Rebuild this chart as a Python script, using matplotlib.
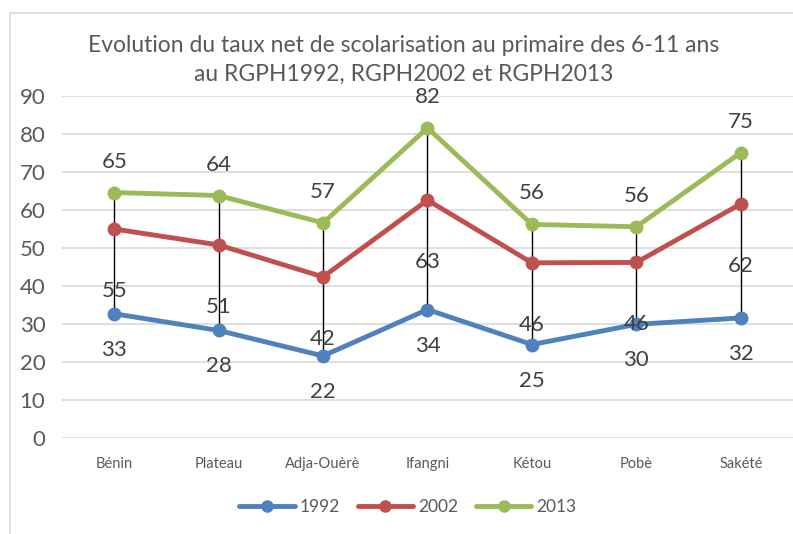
import matplotlib
matplotlib.use("Agg")
import matplotlib.pyplot as plt
from matplotlib.patches import Rectangle
from matplotlib.lines import Line2D

categories = ["Bénin", "Plateau", "Adja-Ouèrè", "Ifangni", "Kétou", "Pobè", "Sakété"]
v1992 = [32.7, 28.3, 21.6, 33.8, 24.6, 29.9, 31.6]
v2002 = [55.0, 50.8, 42.4, 62.6, 46.1, 46.2, 61.6]
v2013 = [64.6, 63.8, 56.6, 81.6, 56.2, 55.6, 75.1]
series_names = ["1992", "2002", "2013"]
colors = ["#4F81BD", "#C0504D", "#9BBB59"]
yticks = [0, 10, 20, 30, 40, 50, 60, 70, 80, 90]
title = "Evolution du taux net de scolarisation au primaire des 6-11 ans\nau RGPH1992, RGPH2002 et RGPH2013"

plt.rcParams['font.family'] = ['Lato', 'DejaVu Sans']
txt = "#595959"

W, H = 793, 534
fig = plt.figure(figsize=(W / 100, H / 100), dpi=100)
fig.patch.set_facecolor("white")
# chart frame
fig.patches.append(Rectangle((10 / W, -0.1), 1.0, (534 - 13) / H + 0.1, transform=fig.transFigure,
                             fill=False, edgecolor="#D9D9D9", linewidth=1.2))

left, right = 62 / W, 793 / W
bottom, top = 1 - 438 / H, 1 - 96 / H
ax = fig.add_axes([left, bottom, right - left, top - bottom])
x = list(range(len(categories)))
ax.set_xlim(-0.5, len(categories) - 0.5)
ax.set_ylim(0, 90)
ax.set_yticks(yticks)
ax.set_yticklabels([str(t) for t in yticks], fontsize=16, color=txt)
ax.set_xticks(x)
ax.set_xticklabels(categories, fontsize=10.5, color=txt)
ax.tick_params(length=0, pad=12)
ax.tick_params(axis='x', pad=14)
ax.grid(axis='y', color="#D9D9D9", linewidth=1.2)
ax.set_axisbelow(True)
for s in ax.spines.values():
    s.set_visible(False)

# high-low lines
for i in x:
    lo = min(v1992[i], v2002[i], v2013[i])
    hi = max(v1992[i], v2002[i], v2013[i])
    ax.plot([i, i], [lo, hi], color="black", linewidth=1, zorder=2)

all_series = [v1992, v2002, v2013]
offsets = [-36, -62, 31]
for vals, name, c, off in zip(all_series, series_names, colors, offsets):
    ax.plot(x, vals, color=c, linewidth=3.5, marker='o', markersize=9, label=name, zorder=3,
            solid_capstyle='round')
    for i, v in enumerate(vals):
        ax.annotate(f"{v:.0f}", (i, v), xytext=(0, off), textcoords="offset pixels",
                    ha="center", va="center", fontsize=16, color="#404040")

fig.text(404 / W, 1 - 45 / H, title.split("\n")[0], ha="center", va="center", fontsize=16.5, color=txt)
fig.text(404 / W, 1 - 74 / H, title.split("\n")[1], ha="center", va="center", fontsize=16.5, color=txt)

handles = [Line2D([0], [0], color=c, linewidth=3.5, marker='o', markersize=8, solid_capstyle='round')
           for c in colors]
fig.legend(handles, series_names, loc="center", bbox_to_anchor=(408 / W, 1 - 507 / H), ncol=3,
           frameon=False, fontsize=12.5, labelcolor=txt, handlelength=3.2, columnspacing=1.0,
           handletextpad=0.3)

fig.savefig("out.png", dpi=100)
